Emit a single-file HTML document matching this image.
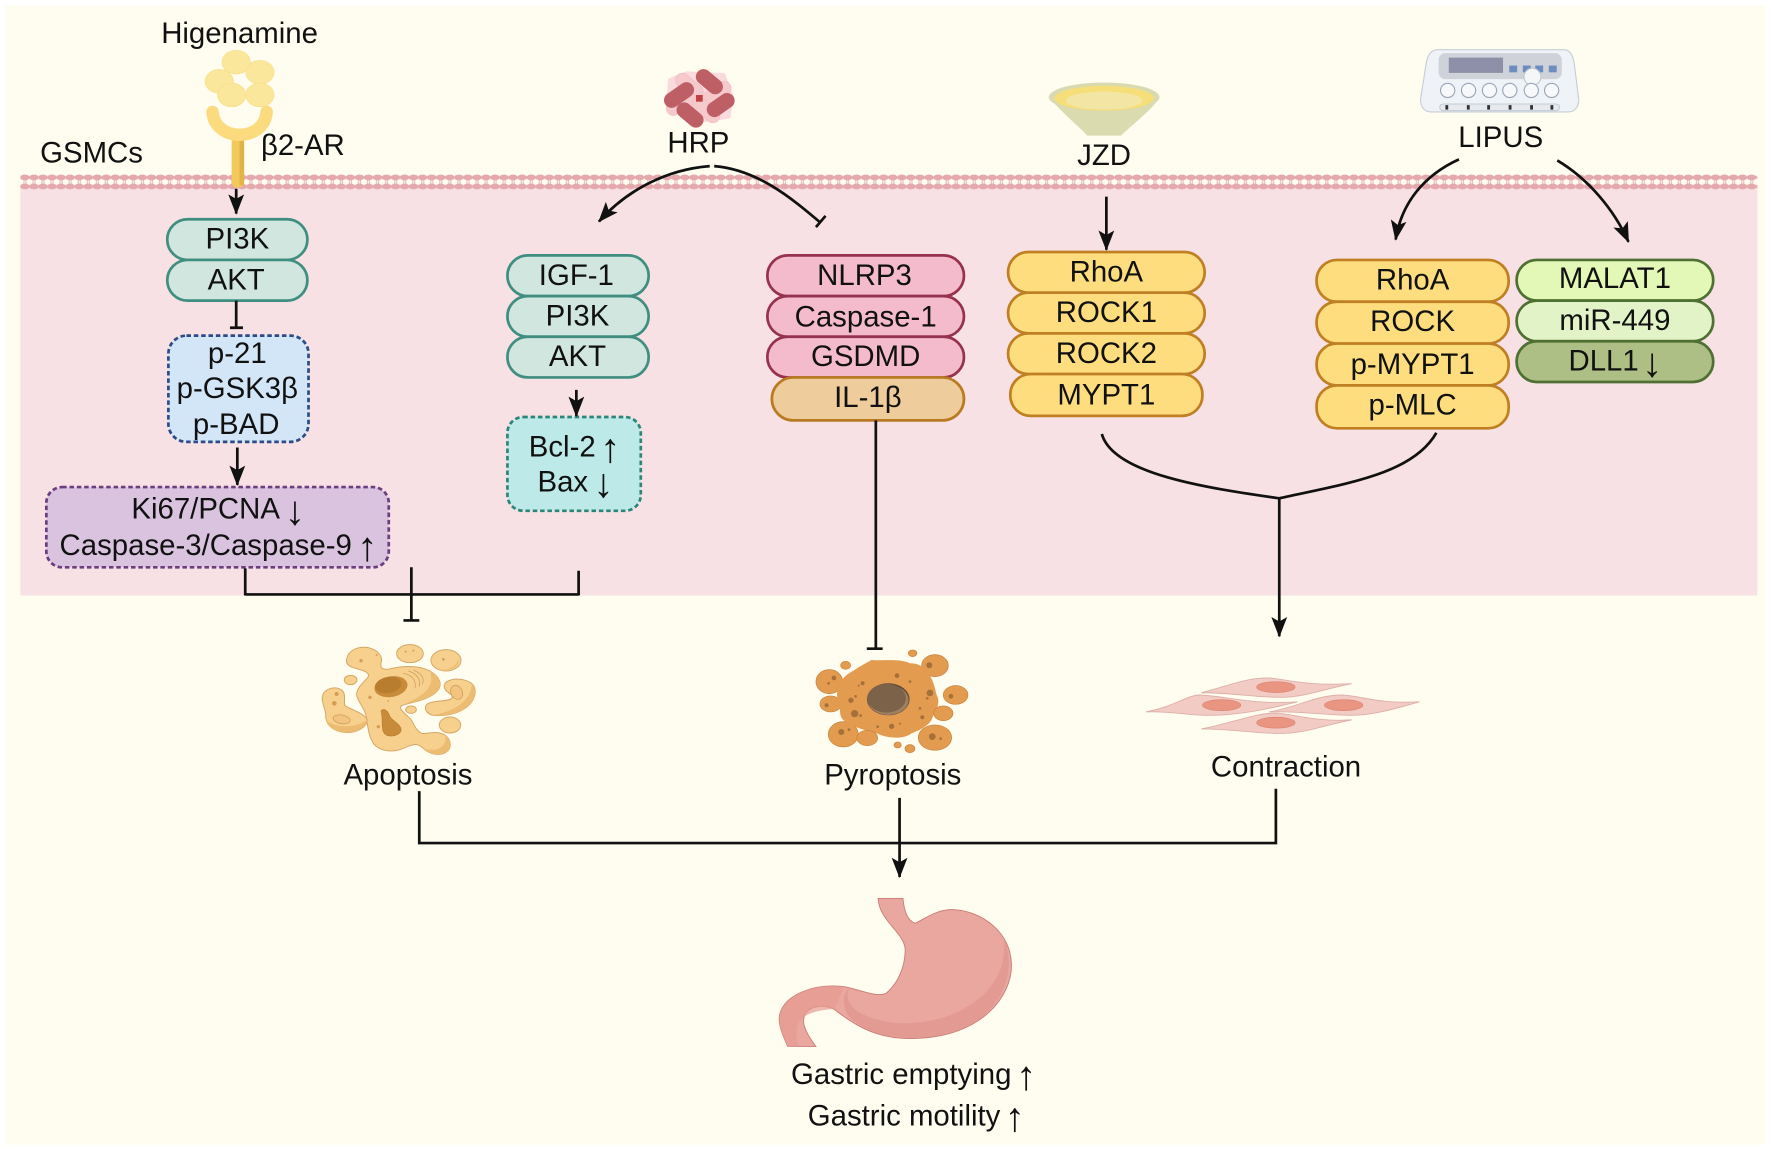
<!DOCTYPE html>
<html><head><meta charset="utf-8"><style>
html,body{margin:0;padding:0;background:#fff;width:1772px;height:1151px;overflow:hidden}
svg{display:block}
text{font-family:"Liberation Sans",sans-serif;font-size:26px;fill:#111;text-anchor:middle}
text.ar{font-size:36px}
.l{fill:none;stroke:#111;stroke-width:2.4}
</style></head><body>
<svg xmlns="http://www.w3.org/2000/svg" width="1772" height="1151" viewBox="0 0 1568 1018.5">
<defs>
<marker id="a" markerUnits="userSpaceOnUse" markerWidth="20" markerHeight="18" viewBox="0 0 20 18" refX="17" refY="9" orient="auto"><path d="M0 2L18 9L0 16L4 9Z" fill="#111"/></marker>
<pattern id="m" patternUnits="userSpaceOnUse" width="8" height="14" x="18" y="154">
<rect x="2.700" y="2" width="1" height="10" fill="#E9BDC1"/><rect x="4.500" y="2" width="1" height="10" fill="#E9BDC1"/>
<ellipse cx="4" cy="3" rx="4.200" ry="2.600" fill="#E4A8AD"/><ellipse cx="4" cy="11" rx="4.200" ry="2.600" fill="#E4A8AD"/>
</pattern>
</defs>
<rect width="1568" height="1018.5" fill="#fff"/>
<rect x="5" y="5" width="1557" height="1008" fill="#FEFDF0"/>
<rect x="18" y="165" width="1537" height="362" fill="#F7E1E4"/>
<rect x="18" y="154" width="1537" height="14" fill="url(#m)"/>

<!-- Higenamine / receptor -->
<g fill="#FBE79B" stroke="#F6DE8A" stroke-width=".6"><ellipse cx="209" cy="55" rx="12.500" ry="10.500"/><ellipse cx="230" cy="64" rx="12.500" ry="10.500"/><ellipse cx="194" cy="72" rx="12.500" ry="10.500"/><ellipse cx="205" cy="84" rx="12.500" ry="10.500"/><ellipse cx="230" cy="84" rx="12.500" ry="10.500"/></g>
<rect x="205" y="118" width="11" height="48" rx="5" fill="#F1C95C"/><rect x="212" y="120" width="4" height="44" fill="#E3B347"/>
<path d="M188 99C190 126 234 126 236 99" fill="none" stroke="#FBDB7E" stroke-width="11" stroke-linecap="round"/>

<!-- HRP -->
<g transform="translate(575.2 53.1) scale(.295)">
<path d="M60 60L110 40L220 45L245 110L235 170L130 185L55 130Z" fill="#F9DADD" stroke="#F9DADD" stroke-width="12" stroke-linejoin="round"/>
<g fill="#F6C9CC" stroke="#EFB6BA" stroke-width="1.500">
<rect x="-48" y="-21" width="96" height="42" rx="21" transform="translate(118 78) rotate(40)"/>
<rect x="-48" y="-21" width="96" height="42" rx="21" transform="translate(200 100) rotate(-35)"/>
<rect x="-48" y="-21" width="96" height="42" rx="21" transform="translate(92 130) rotate(-35)"/>
<rect x="-48" y="-21" width="96" height="42" rx="21" transform="translate(168 150) rotate(40)"/>
</g>
<g fill="#BE5F66">
<rect x="-46" y="-23" width="92" height="46" rx="23" transform="translate(178 65) rotate(40)"/>
<rect x="-50" y="-23" width="100" height="46" rx="23" transform="translate(87 105) rotate(-35)"/>
<rect x="-46" y="-23" width="92" height="46" rx="23" transform="translate(212 135) rotate(-35)"/>
<rect x="-46" y="-23" width="92" height="46" rx="23" transform="translate(120 165) rotate(40)"/>
</g>
<rect x="138" y="105" width="20" height="20" fill="#C23F44"/>
</g>

<!-- Bowl -->
<path d="M929 87C940 100 955 112 962 120H992C1000 112 1016 100 1026 87Z" fill="#DADBAF"/>
<ellipse cx="977" cy="86" rx="49" ry="13" fill="#D9DAB0"/><ellipse cx="977" cy="87" rx="44" ry="11" fill="#F6DE78"/><ellipse cx="977" cy="89" rx="34" ry="8" fill="#F3E6A5"/>

<!-- LIPUS device -->
<path d="M1272 44H1384C1390 44 1392 50 1393 56L1397 88C1397 94 1394 99 1388 99H1266C1260 99 1257 94 1257 88L1262 56C1263 50 1266 44 1272 44Z" fill="#EFF3F7" stroke="#C6CDD6"/>
<rect x="1273" y="47" width="109" height="23" rx="6" fill="#CFD3D9"/>
<rect x="1282" y="51" width="48" height="13.5" fill="#8D90A8"/>
<g fill="#6D8CC0"><rect x="1335.5" y="58" width="7" height="6"/><rect x="1347.5" y="58" width="7" height="6"/><rect x="1358.5" y="58" width="7" height="6"/><rect x="1370.5" y="58" width="7" height="6"/></g>
<circle cx="1356" cy="68" r="7.5" fill="#F4F6F8" stroke="#BFC6CE"/>
<g fill="#F6F8FA" stroke="#9AA6B6"><circle cx="1281" cy="80" r="6.3"/><circle cx="1299.5" cy="80" r="6.3"/><circle cx="1318" cy="80" r="6.3"/><circle cx="1336" cy="80" r="6.3"/><circle cx="1355" cy="80" r="6.3"/><circle cx="1373" cy="80" r="6.3"/></g>
<rect x="1274" y="92" width="106" height="6" rx="3" fill="#E6E9ED" stroke="#B8C0CA" stroke-width=".7"/>
<g fill="#333"><rect x="1279" y="93" width="2.5" height="4"/><rect x="1298" y="93" width="2.5" height="4"/><rect x="1316" y="93" width="2.5" height="4"/><rect x="1335" y="93" width="2.5" height="4"/><rect x="1354" y="93" width="2.5" height="4"/><rect x="1372" y="93" width="2.5" height="4"/></g>

<!-- Pills -->
<g stroke-width="2.4">
<g fill="#D0E6DE" stroke="#3F8E80">
<rect x="148" y="194" width="124" height="36" rx="18"/><rect x="148" y="230" width="124" height="36" rx="18"/>
<rect x="449" y="226" width="125" height="36" rx="18"/><rect x="449" y="262" width="125" height="36" rx="18"/><rect x="449" y="298" width="125" height="36" rx="18"/>
</g>
<g fill="#F4BBCC" stroke="#96324F">
<rect x="679" y="226" width="174" height="36" rx="18"/><rect x="679" y="262" width="174" height="36" rx="18"/><rect x="679" y="298" width="174" height="36" rx="18"/>
</g>
<rect x="683" y="334" width="170" height="38" rx="19" fill="#EECC9B" stroke="#B97B22"/>
<g fill="#FDDD7D" stroke="#BF7F22">
<rect x="892" y="223" width="174" height="36" rx="18"/><rect x="892" y="259" width="174" height="36" rx="18"/><rect x="892" y="295" width="174" height="36" rx="18"/><rect x="894" y="331" width="170" height="37" rx="18"/>
<rect x="1165" y="230" width="170" height="37" rx="18"/><rect x="1165" y="267" width="170" height="37" rx="18"/><rect x="1165" y="304" width="170" height="37" rx="18"/><rect x="1165" y="341" width="170" height="38" rx="18"/>
</g>
<g stroke="#4F7033">
<rect x="1342" y="230" width="174" height="36" rx="18" fill="#E3F8B6"/><rect x="1342" y="266" width="174" height="36" rx="18" fill="#E3F3C8"/><rect x="1342" y="302" width="174" height="36" rx="18" fill="#ADBF85"/>
</g>
<rect x="149" y="297" width="124" height="94" rx="16" fill="#D3E6F8" stroke="#2B4C86" stroke-dasharray="4 2.5"/>
<rect x="41" y="431" width="303" height="71" rx="14" fill="#D9C3DF" stroke="#6B3F7F" stroke-dasharray="4 2.5"/>
<rect x="449" y="369" width="118" height="83" rx="14" fill="#BDEAE8" stroke="#2E8577" stroke-dasharray="4 2.5"/>
</g>

<!-- Connectors -->
<g class="l">
<path d="M209 167V189" marker-end="url(#a)"/>
<path d="M209 266V290M203.500 290H215"/>
<path d="M210 396V429" marker-end="url(#a)"/>
<path d="M510 345V368" marker-end="url(#a)"/>
<path d="M628 147C590 150 555 168 530 196" marker-end="url(#a)"/>
<path d="M632 147C670 150 700 175 726 197M730.500 191L722 201"/>
<path d="M979 174V221" marker-end="url(#a)"/>
<path d="M1291 141C1260 155 1240 180 1235 212" marker-end="url(#a)"/>
<path d="M1378 142C1405 158 1428 185 1441 214" marker-end="url(#a)"/>
<path d="M975 384C985 420 1070 432 1132 441C1190 428 1250 420 1271 383"/>
<path d="M1132 441V563" marker-end="url(#a)"/>
<path d="M217 503V527M217 526H512M512 505V527M364 502V549M357 549H371"/>
<path d="M775 372V574M767 574H781"/>
<path d="M371 700V746H1129V698"/>
<path d="M796 706V776" marker-end="url(#a)"/>
</g>

<!-- Apoptosis -->
<g transform="translate(278.7 561.9) scale(.295)">
<g fill="#F8D08E" stroke="#D5A866" stroke-width="3">
<path d="M95 72C100 45 130 33 160 38C190 45 205 65 198 85C195 100 205 105 225 102C260 92 310 90 345 108C375 125 385 150 365 170C340 195 295 200 265 210C245 216 265 232 285 250C298 265 300 285 320 295C340 298 365 285 390 300C410 315 410 340 395 350C375 365 345 358 325 340C305 320 290 330 265 340C240 352 195 352 175 325C160 300 160 280 155 255C155 225 130 205 125 180C125 155 150 140 160 125C165 108 135 105 115 98C100 93 92 85 95 72Z"/>
<path d="M22 185C25 165 55 150 80 165C95 178 85 195 90 212C110 225 150 235 157 255C155 280 120 295 90 292C60 290 35 275 32 245C35 225 20 210 22 185Z"/>
<path d="M388 150C395 130 440 125 470 145C490 165 480 200 450 220C420 240 380 245 350 240C330 232 325 215 340 205C365 195 400 200 410 190C420 175 385 175 388 150Z"/>
<ellipse cx="285" cy="56" rx="40" ry="27"/><ellipse cx="393" cy="76" rx="45" ry="32"/><ellipse cx="107" cy="135" rx="19" ry="14"/><ellipse cx="288" cy="224" rx="16" ry="11"/><ellipse cx="405" cy="270" rx="32" ry="24"/>
</g>
<g fill="#EDBC73">
<path d="M345 108C375 125 385 150 365 170C340 195 295 200 265 210C300 190 365 170 345 108Z"/>
<path d="M157 255C155 280 120 295 90 292C60 290 40 278 33 255C60 280 120 280 157 255Z"/>
<path d="M470 145C490 165 480 200 450 220C420 240 380 245 350 240C400 235 470 205 470 145Z"/>
<path d="M390 300C410 315 410 340 395 350C375 365 345 358 325 340C350 350 400 345 390 300Z"/>
<path d="M430 72C435 90 415 108 380 105C410 103 425 90 430 72Z"/>
</g>
<ellipse cx="228" cy="155" rx="50" ry="31" fill="#C78B3A" transform="rotate(-10 228 155)"/>
<ellipse cx="220" cy="150" rx="40" ry="24" fill="#B87D2F" transform="rotate(-10 220 150)"/>
<path d="M198 228C205 218 218 225 225 245C235 260 262 270 258 288C250 305 215 310 205 290C198 270 205 250 198 228Z" fill="#C78B3A" stroke="#B87D2F" stroke-width="2"/>
<g fill="none" stroke="#C49A55" stroke-width="2"><path d="M265 115C290 120 305 135 300 160"/><path d="M280 108C305 115 320 135 312 155"/><path d="M295 105C320 115 330 130 322 148"/></g>
<g fill="#F2C47F" stroke="#C49A55" stroke-width="2"><ellipse cx="80" cy="253" rx="26" ry="13" transform="rotate(10 80 253)"/><ellipse cx="425" cy="172" rx="17" ry="22" transform="rotate(-25 425 172)"/></g>
<g fill="#D59E52"><circle cx="138" cy="77" r="5"/><circle cx="185" cy="60" r="3"/><circle cx="295" cy="47" r="3"/><circle cx="272" cy="50" r="3"/><circle cx="385" cy="73" r="4"/><circle cx="65" cy="177" r="6"/><circle cx="58" cy="205" r="7"/><circle cx="165" cy="187" r="5"/><circle cx="190" cy="275" r="5"/><circle cx="220" cy="198" r="2.500"/></g>
</g>

<!-- Pyroptosis -->
<g transform="translate(716.7 570.7) scale(.295)">
<g fill="#E39B50" stroke="#C8803A" stroke-width="2">
<ellipse cx="58" cy="110" rx="40" ry="36"/><ellipse cx="375" cy="62" rx="40" ry="33"/><ellipse cx="437" cy="150" rx="37" ry="28"/><ellipse cx="62" cy="177" rx="32" ry="24"/><ellipse cx="100" cy="268" rx="45" ry="38"/><ellipse cx="375" cy="278" rx="50" ry="38"/>
<ellipse cx="107" cy="61" rx="15" ry="12"/><ellipse cx="308" cy="25" rx="13" ry="10"/><ellipse cx="263" cy="300" rx="11" ry="9"/><ellipse cx="300" cy="311" rx="15" ry="12"/>
</g>
<path d="M110 90C140 70 165 55 185 45C220 48 270 40 300 55C330 55 345 70 352 85C370 100 375 130 380 150C390 165 385 190 370 210C365 240 330 255 305 265C280 285 230 280 200 265C170 255 130 250 100 225C85 210 95 195 85 180C80 150 75 120 110 90Z" fill="#E39B50"/>
<g fill="#E39B50" stroke="#C8803A" stroke-width="2"><ellipse cx="172" cy="279" rx="31" ry="23"/><ellipse cx="400" cy="205" rx="29" ry="22"/></g>
<ellipse cx="235" cy="163" rx="64" ry="48" fill="#5E4A38"/>
<ellipse cx="235" cy="165" rx="61" ry="45" fill="#A08062"/>
<ellipse cx="230" cy="160" rx="58" ry="43" fill="#7D624A"/>
<g fill="#A5703A"><circle cx="72" cy="99" r="7"/><circle cx="56" cy="115" r="4"/><circle cx="50" cy="181" r="6"/><circle cx="358" cy="61" r="9"/><circle cx="423" cy="154" r="7"/><circle cx="94" cy="261" r="9"/><circle cx="117" cy="254" r="4"/><circle cx="367" cy="275" r="10"/><circle cx="392" cy="281" r="4"/>
<circle cx="158" cy="115" r="6"/><circle cx="146" cy="122" r="3"/><circle cx="261" cy="92" r="7"/><circle cx="300" cy="110" r="4"/><circle cx="123" cy="166" r="8"/><circle cx="137" cy="154" r="4"/><circle cx="134" cy="206" r="11"/><circle cx="152" cy="212" r="4"/><circle cx="203" cy="245" r="4"/><circle cx="245" cy="244" r="8"/><circle cx="270" cy="236" r="3"/><circle cx="337" cy="217" r="6"/><circle cx="330" cy="190" r="4"/><circle cx="360" cy="144" r="10"/><circle cx="352" cy="160" r="4"/></g>
</g>

<!-- Contraction cells -->
<g fill="#F2CCC4" stroke="#DDB0AA" stroke-width=".8">
<path d="M1063 613C1090 606 1105 599 1125 600C1140 602 1160 607 1196 605C1170 610 1155 617 1133 617C1110 617 1090 613 1063 613Z"/>
<path d="M1014 630C1040 625 1050 615 1062 615C1085 616 1110 624 1148 621C1120 628 1095 633 1069 633C1050 633 1035 629 1014 630Z"/>
<path d="M1123 630C1150 625 1165 615 1188 615C1205 616 1220 623 1256 621C1235 627 1215 633 1196 633C1175 633 1150 629 1123 630Z"/>
<path d="M1063 645C1090 640 1110 631 1129 631C1145 632 1165 639 1196 637C1170 642 1155 649 1133 649C1110 649 1090 645 1063 645Z"/>
</g>
<g fill="#EA9582" stroke="#D88472" stroke-width=".6"><ellipse cx="1129" cy="608" rx="17" ry="4.800"/><ellipse cx="1081" cy="624" rx="17" ry="4.800"/><ellipse cx="1189" cy="624" rx="17" ry="4.800"/><ellipse cx="1129" cy="639.500" rx="17" ry="4.800"/></g>

<!-- Stomach -->
<path d="M777 795L799 795C800 806 803 815 810 817C820 812 830 804 845 805C870 807 894 825 895 853C896 880 870 919 805 919C770 919 750 902 738 893C728 888 712 890 711 903C711 910 716 918 722 926L697 926C692 915 688 905 690 897C695 880 720 870 746 873C760 875 775 883 784 879C795 870 801 855 801 840C800 825 778 815 777 795Z" fill="#E9A79F" stroke="#C97C74" stroke-width=".8"/>
<path d="M888 830C897 850 895 880 865 903C835 924 775 924 752 900C745 892 745 880 752 874C745 885 755 900 790 905C840 910 895 880 888 830Z" fill="#E29A92"/>
<path d="M746 873C720 870 695 880 690 897C688 905 692 915 697 926H707C703 912 700 895 738 893C742 886 744 880 746 873Z" fill="#E59A92" opacity=".7"/>

<!-- Text -->
<text x="212" y="38">Higenamine</text><text x="81" y="144">GSMCs</text><text x="268" y="137">β2-AR</text>
<text x="618" y="135">HRP</text><text x="977" y="146">JZD</text><text x="1328" y="130">LIPUS</text>
<text x="210" y="220">PI3K</text><text x="209" y="256">AKT</text>
<text x="210" y="321">p-21</text><text x="210" y="352">p-GSK3β</text><text x="209" y="384">p-BAD</text>
<text x="182" y="459">Ki67/PCNA</text><text class="ar" x="261" y="464">↓</text>
<text x="182" y="491">Caspase-3/Caspase-9</text><text class="ar" x="325" y="496">↑</text>
<text x="510" y="252">IGF-1</text><text x="511" y="288">PI3K</text><text x="511" y="324">AKT</text>
<text x="497.500" y="404">Bcl-2</text><text class="ar" x="540" y="409">↑</text>
<text x="498" y="435">Bax</text><text class="ar" x="534" y="440">↓</text>
<text x="765" y="252">NLRP3</text><text x="766" y="289">Caspase-1</text><text x="766" y="324">GSDMD</text><text x="768" y="360">IL-1β</text>
<text x="979" y="249">RhoA</text><text x="979" y="285">ROCK1</text><text x="979" y="321">ROCK2</text><text x="979" y="358">MYPT1</text>
<text x="1250" y="256">RhoA</text><text x="1250" y="293">ROCK</text><text x="1250" y="331">p-MYPT1</text><text x="1250" y="367">p-MLC</text>
<text x="1429" y="255">MALAT1</text><text x="1429" y="292">miR-449</text>
<text x="1419" y="328">DLL1</text><text class="ar" x="1462" y="333">↓</text>
<text x="361" y="694">Apoptosis</text><text x="790" y="694">Pyroptosis</text><text x="1138" y="687">Contraction</text>
<text x="797.500" y="959">Gastric emptying</text><text class="ar" x="908" y="964">↑</text>
<text x="800" y="996">Gastric motility</text><text class="ar" x="898" y="1001">↑</text>
</svg>
</body></html>
